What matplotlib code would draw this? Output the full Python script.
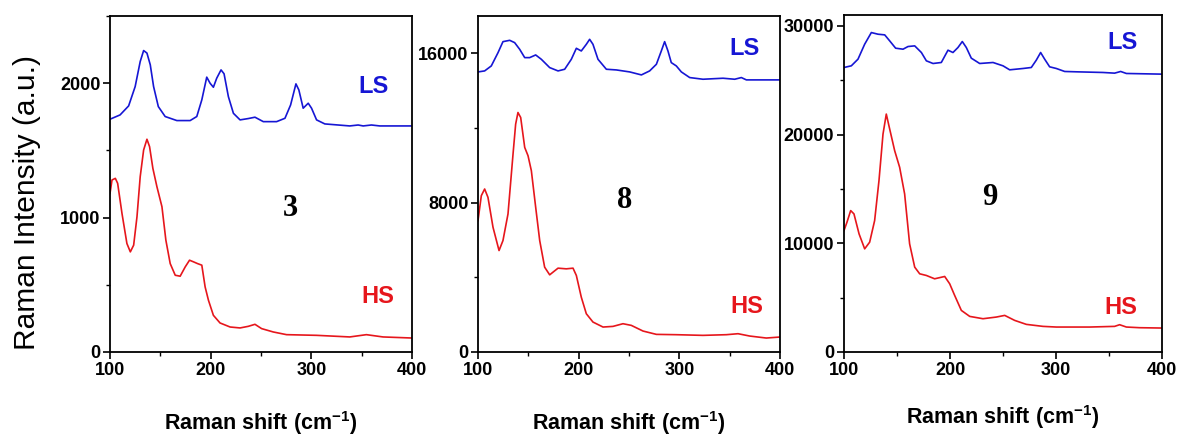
import matplotlib
matplotlib.use("Agg")
import matplotlib.pyplot as plt
from matplotlib.ticker import MultipleLocator

# ---------------- data ----------------
# Panel "3"
p3_ls_x = [100, 110, 118.5, 125, 130, 133.4, 136.7, 140, 143.3, 148, 154.8, 166.4, 179.6, 186.2, 191.2,
           196.1, 199.4, 202.7, 206, 210.3, 213.3, 217.6, 222.6, 229.2, 237.4, 244, 252.3, 265.5, 273.8,
           279.4, 284.7, 287.6, 291.9, 296.9, 300.2, 305.2, 313.4, 338.2, 346.5, 351.5, 359.7, 368, 400]
p3_ls_y = [1732, 1764, 1831, 1975, 2161, 2243, 2224, 2137, 1975, 1826, 1752, 1722, 1722, 1752, 1876,
           2045, 2000, 1970, 2037, 2099, 2070, 1900, 1776, 1727, 1737, 1747, 1714, 1714, 1739,
           1838, 1995, 1950, 1814, 1851, 1814, 1727, 1697, 1682, 1689, 1682, 1689, 1682, 1682]
p3_hs_x = [100, 102, 105.3, 107.6, 111.9, 116.8, 120.2, 123.5, 126.8, 130, 133.4, 136.7, 139.3, 142.6,
           146.6, 151.6, 155.5, 159.8, 164.8, 169.7, 174.7, 179, 182.9, 186.9, 191.2, 194.5, 197.8,
           202.7, 209.3, 219.3, 229.2, 237.4, 244, 250.6, 262.2, 275.4, 305.2, 338.2, 354.7, 371.2, 400]
p3_hs_y = [1180, 1280, 1292, 1255, 1031, 807, 745, 795, 1006, 1304, 1503, 1583, 1528, 1366,
           1230, 1081, 832, 658, 571, 564, 633, 683, 671, 658, 646, 484, 385,
           273, 216, 186, 179, 191, 206, 174, 149, 129, 124, 112, 129, 112, 104]

# Panel "8"
p8_ls_x = [100, 106.6, 113.2, 119.9, 124.8, 131.5, 136.4, 141.4, 146.4, 151.3, 157.3, 162.9, 171.2,
           179.5, 186.1, 192.7, 197.7, 202.6, 207.6, 210.9, 214.2, 219.2, 227.5, 237.4, 250.7, 262.3,
           270.5, 277.2, 282.1, 285.4, 288.7, 292, 297, 302, 310.3, 323.5, 343.4, 355, 361.6, 366.6, 400]
p8_ls_y = [15004, 15058, 15325, 16038, 16626, 16697, 16573, 16216, 15770, 15770, 15913, 15681, 15236,
           15058, 15147, 15681, 16270, 16127, 16483, 16751, 16483, 15681, 15147, 15111, 15004, 14844,
           15058, 15414, 16127, 16626, 16127, 15503, 15325, 15004, 14702, 14612, 14666, 14612, 14702,
           14577, 14577]
p8_hs_x = [100, 103.3, 106.6, 109.9, 114.9, 120.9, 124.8, 129.8, 134.8, 137.4, 139.7, 142.4, 146.4,
           149.7, 153, 157.3, 161.3, 166.2, 171.2, 174.5, 179.5, 187.7, 194.4, 197.7, 202.6, 207.6,
           214.2, 224.2, 234.1, 244, 252.3, 263.9, 277.2, 297, 323.5, 346.7, 358.3, 369.9, 386.4, 400]
p8_hs_y = [7039, 8375, 8732, 8286, 6683, 5435, 5970, 7395, 10603, 12207, 12830, 12563, 10959,
           10514, 9712, 7752, 5970, 4544, 4134, 4277, 4491, 4455, 4491, 4099, 2940, 2049,
           1604, 1337, 1372, 1515, 1426, 1123, 944, 927, 891, 927, 980, 855, 748, 802]

# Panel "9"
p9_ls_x = [100, 106.9, 113.2, 119.5, 125.8, 132.1, 138.4, 143.1, 148.7, 155.7, 160.4, 166.7, 173,
           177.7, 184, 191.8, 198.1, 202.8, 207.5, 211.6, 215.4, 220.1, 228, 240.6, 250, 256.3, 268.9,
           276.7, 281.4, 285.5, 289.3, 294, 300.3, 308.2, 319.2, 344.3, 355.3, 361, 366.4, 400]
p9_ls_y = [26171, 26325, 26937, 28314, 29386, 29233, 29172, 28620, 27947, 27855, 28100, 28161, 27549,
           26784, 26539, 26631, 27763, 27549, 28008, 28559, 28008, 27029, 26539, 26631, 26325, 25957,
           26080, 26171, 26845, 27549, 26937, 26233, 26080, 25805, 25774, 25713, 25651, 25805, 25621,
           25560]
p9_hs_x = [100, 102.8, 106.3, 109.4, 114.2, 119.5, 124.2, 128.9, 133, 136.8, 139.9, 143.1, 147.8,
           152.5, 157.2, 161.9, 166.7, 171.4, 177.7, 185.5, 195, 199.7, 204.4, 210.7, 218.6, 231.1,
           243.7, 251.6, 261, 272, 287.7, 300.3, 331.8, 355.3, 360, 366.4, 378.9, 400]
p9_hs_y = [11173, 11938, 13009, 12703, 10867, 9489, 10101, 12091, 15764, 20050, 21886, 20509, 18519,
           16989, 14540, 9948, 7806, 7193, 7040, 6734, 6948, 6275, 5204, 3826, 3275, 3061,
           3214, 3367, 2908, 2541, 2357, 2296, 2296, 2357, 2510, 2296, 2235, 2204]

sample_labels = ["3", "8", "9"]
ylims = [(0, 2500), (0, 18000), (0, 31000)]
y_major = [1000, 8000, 10000]
x_ticks = [100, 200, 300, 400]

# ---------------- styling ----------------
BLUE = "#1616d4"
RED = "#e6161c"
plt.rcParams["font.family"] = ["Liberation Sans", "DejaVu Sans"]
plt.rcParams["font.weight"] = "bold"
plt.rcParams["mathtext.fontset"] = "custom"
plt.rcParams["mathtext.rm"] = "Liberation Sans:bold"
plt.rcParams["mathtext.bf"] = "Liberation Sans:bold"
plt.rcParams["mathtext.it"] = "Liberation Sans:bold"

fig = plt.figure(figsize=(11.79, 4.37), dpi=100)
rects = [
    [110 / 1179, 85 / 437, 302 / 1179, 336 / 437],
    [478 / 1179, 85 / 437, 302 / 1179, 336 / 437],
    [844 / 1179, 85 / 437, 318 / 1179, 337 / 437],
]
series = [
    (p3_ls_x, p3_ls_y, p3_hs_x, p3_hs_y),
    (p8_ls_x, p8_ls_y, p8_hs_x, p8_hs_y),
    (p9_ls_x, p9_ls_y, p9_hs_x, p9_hs_y),
]
ls_pos = [(0.871, 0.789), (0.884, 0.902), (0.877, 0.917)]
hs_pos = [(0.887, 0.164), (0.891, 0.134), (0.871, 0.131)]
num_pos = [(0.596, 0.426), (0.487, 0.452), (0.459, 0.457)]
xlabel_y = [423, 423, 417]

for i, rect in enumerate(rects):
    ax = fig.add_axes(rect)
    lx, ly, hx, hy = series[i]
    ax.plot(lx, ly, color=BLUE, lw=1.2)
    ax.plot(hx, hy, color=RED, lw=1.2)
    ax.set_xlim(100, 400)
    ax.set_ylim(*ylims[i])
    ax.set_xticks(x_ticks)
    ax.xaxis.set_minor_locator(MultipleLocator(50))
    ax.yaxis.set_major_locator(MultipleLocator(y_major[i]))
    ax.yaxis.set_minor_locator(MultipleLocator(y_major[i] / 2))
    ax.tick_params(which="major", direction="out", length=5, width=1.2, pad=2, labelsize=13)
    ax.tick_params(which="minor", direction="out", length=3, width=1.0)
    for sp in ax.spines.values():
        sp.set_linewidth(1.3)
    ax.text(*ls_pos[i], "LS", transform=ax.transAxes, color=BLUE, fontsize=17,
            fontweight="bold", ha="center", va="center")
    ax.text(*hs_pos[i], "HS", transform=ax.transAxes, color=RED, fontsize=17,
            fontweight="bold", ha="center", va="center")
    ax.text(*num_pos[i], sample_labels[i], transform=ax.transAxes, color="black",
            fontsize=22, fontweight="bold", family=["Liberation Serif", "DejaVu Serif"],
            ha="center", va="center")
    cx = rect[0] + rect[2] / 2
    fig.text(cx, 1 - xlabel_y[i] / 437, r"Raman shift (cm$^{-1}$)", fontsize=15.5,
             fontweight="bold", ha="center", va="center")

fig.text(27 / 1179, 1 - 202 / 437, "Raman Intensity (a.u.)", rotation=90, fontsize=21.5,
         fontweight="normal", ha="center", va="center")

fig.savefig("out.png", dpi=100)
